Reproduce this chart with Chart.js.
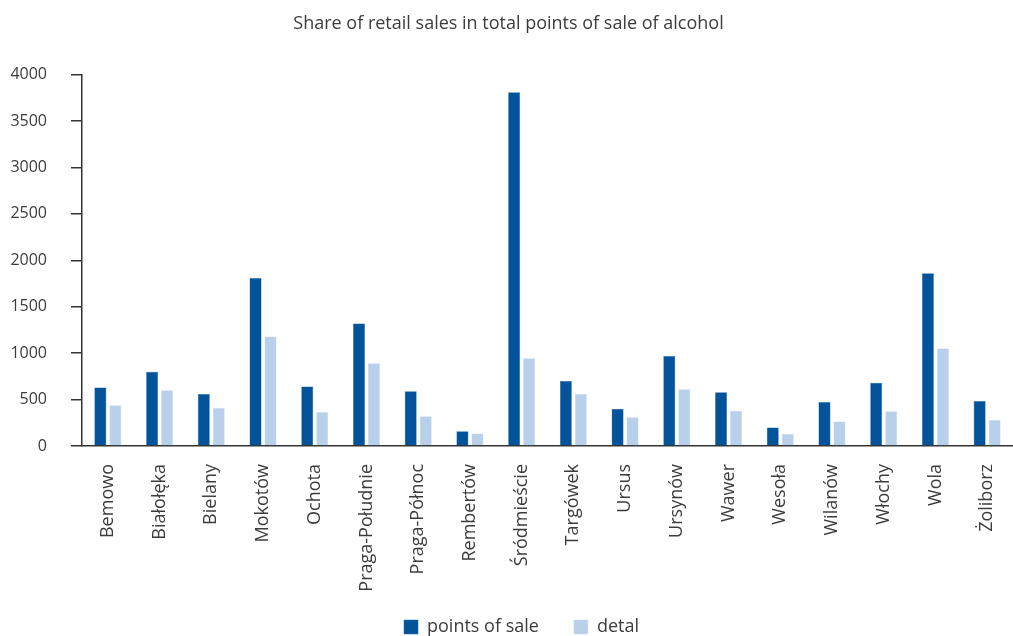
<!DOCTYPE html>
<html>
<head>
<meta charset="utf-8">
<script src="https://cdn.jsdelivr.net/npm/chart.js@4.4.0/dist/chart.umd.min.js"></script>
<style>
html,body{margin:0;padding:0;background:#fff;}
#wrap{width:1013px;height:636px;position:relative;}
</style>
</head>
<body>
<div id="wrap"><canvas id="c" width="1013" height="636"></canvas></div>
<script>
const categories = ["Bemowo","Białołęka","Bielany","Mokotów","Ochota","Praga-Południe","Praga-Północ","Rembertów","Śródmieście","Targówek","Ursus","Ursynów","Wawer","Wesoła","Wilanów","Włochy","Wola","Żoliborz"];
const pointsOfSale = [630,800,560,1810,640,1320,590,160,3810,700,400,970,580,200,475,680,1860,485];
const detal = [440,600,410,1180,365,890,320,135,945,560,310,610,380,130,265,375,1050,280];
const yTicks = [0,500,1000,1500,2000,2500,3000,3500,4000];
const titleText = "Share of retail sales in total points of sale of alcohol";

const FONT = "'Open Sans', 'Noto Sans', sans-serif";
const TXT = '#3c3c3c';

const legendShift = {
  id: 'legendShift',
  afterLayout(chart) {
    if (chart.legend) {
      chart.legend.left += 13; chart.legend.right += 13;
      chart.legend.top -= 13; chart.legend.bottom -= 13;
    }
  }
};

new Chart(document.getElementById('c'), {
  type: 'bar',
  data: {
    labels: categories,
    datasets: [
      {label: 'points of sale', data: pointsOfSale, backgroundColor: '#02539A', borderColor: '#2a6aa6', borderWidth: 0.5,
       barPercentage: 0.8, categoryPercentage: 0.58},
      {label: 'detal', data: detal, backgroundColor: '#B9D0EA', borderColor: '#c9dbef', borderWidth: 0.5,
       barPercentage: 0.8, categoryPercentage: 0.58}
    ]
  },
  plugins: [legendShift],
  options: {
    responsive: false,
    animation: false,
    devicePixelRatio: 1,
    layout: {padding: {left: 0, right: -4, top: 0, bottom: -23}},
    plugins: {
      title: {display: true, text: titleText, color: TXT, font: {family: FONT, size: 18, weight: 'normal'}, padding: {top: 13, bottom: 40}},
      legend: {position: 'bottom', labels: {color: TXT, font: {family: FONT, size: 18}, boxWidth: 14, boxHeight: 14, padding: 35}},
      tooltip: {enabled: false}
    },
    scales: {
      x: {
        grid: {display: true, drawOnChartArea: false, drawTicks: false, color: '#333'},
        border: {display: true, color: '#333', width: 1.5},
        ticks: {color: TXT, font: {family: FONT, size: 18}, minRotation: 90, maxRotation: 90, padding: 18, autoSkip: false},
        afterFit: (s) => { s.height = 150; s.paddingRight = 0; s.paddingLeft = 0; }
      },
      y: {
        min: 0, max: 4000,
        afterBuildTicks: (s) => { s.ticks = yTicks.map(v => ({value: v})); },
        grid: {display: true, drawOnChartArea: false, drawTicks: true, tickLength: 11, color: '#333', lineWidth: 1.5},
        border: {display: true, color: '#333', width: 1.5},
        ticks: {color: TXT, font: {family: FONT, size: 16}, padding: 24, callback: (v) => String(v)},
        afterFit: (s) => { s.width = 82; s.paddingTop = 0; s.paddingBottom = 0; }
      }
    }
  }
});
</script>
</body>
</html>
